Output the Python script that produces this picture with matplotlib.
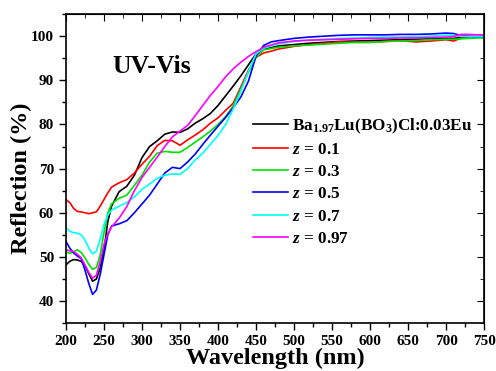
import matplotlib
matplotlib.use("Agg")
import matplotlib.pyplot as plt
from matplotlib.ticker import MultipleLocator

plt.rcParams['font.family'] = 'Liberation Serif'
plt.rcParams['font.weight'] = 'bold'
plt.rcParams['mathtext.fontset'] = 'custom'
plt.rcParams['mathtext.rm'] = 'Liberation Serif:bold'
plt.rcParams['mathtext.it'] = 'Liberation Serif:italic:bold'
plt.rcParams['mathtext.bf'] = 'Liberation Serif:bold'

# wavelength grid (nm)
wl = [200, 205, 210, 215, 220, 225, 230, 235, 240, 245, 250, 255, 260, 270, 280, 290,
      300, 310, 320, 330, 340, 350, 360, 370, 380, 390, 400, 410, 420, 430, 440, 450,
      460, 470, 480, 500, 520, 540, 560, 580, 600, 620, 640, 660, 680, 700, 710, 720,
      730, 740, 750]

# reflection (%) per sample
r_base = [48.2, 49.0, 49.4, 49.3, 49.0, 48.0, 46.2, 44.5, 45.0, 47.5, 51.5, 58.0, 61.5, 64.8, 66.0, 68.5,
          72.5, 75.0, 76.3, 77.8, 78.3, 78.2, 79.0, 80.3, 81.3, 82.5, 84.3, 86.5, 88.7, 91.0, 93.5, 96.0,
          97.0, 97.4, 97.8, 98.1, 98.4, 98.6, 98.8, 98.9, 99.0, 99.1, 99.2, 99.3, 99.4, 99.5, 99.5, 99.7,
          99.7, 99.8, 99.8]
r_01 = [63.0, 62.3, 61.0, 60.3, 60.2, 60.0, 59.8, 60.0, 60.2, 61.5, 63.0, 64.5, 65.8, 66.8, 67.5, 69.0,
        71.0, 72.8, 75.2, 76.4, 76.3, 75.3, 76.5, 77.6, 78.8, 80.3, 81.5, 83.2, 84.8, 88.5, 92.3, 95.2,
        96.2, 96.6, 97.1, 97.7, 98.1, 98.4, 98.7, 98.6, 98.6, 98.8, 99.0, 98.7, 98.9, 99.2, 98.9, 99.6,
        99.8, 99.9, 99.9]
r_03 = [51.2, 50.8, 51.2, 51.6, 51.0, 49.8, 48.3, 47.2, 47.6, 50.5, 55.5, 60.0, 62.0, 63.3, 64.0, 66.2,
        68.5, 71.5, 73.5, 73.9, 73.7, 73.7, 74.8, 76.0, 77.2, 78.5, 80.0, 81.8, 84.2, 88.0, 91.8, 95.2,
        96.9, 97.2, 97.5, 97.8, 98.0, 98.2, 98.4, 98.6, 98.6, 98.8, 98.9, 99.0, 99.2, 99.3, 99.3, 99.4,
        99.5, 99.6, 99.6]
r_05 = [53.5, 52.0, 50.9, 50.2, 49.6, 47.0, 44.0, 41.5, 42.5, 46.0, 50.5, 55.0, 57.0, 57.5, 58.2, 60.0,
        62.0, 64.0, 66.5, 69.0, 70.3, 70.0, 71.5, 73.3, 75.5, 77.6, 79.6, 81.6, 83.8, 86.2, 89.8, 95.5,
        97.9, 98.7, 99.0, 99.5, 99.8, 100.0, 100.2, 100.3, 100.3, 100.3, 100.4, 100.4, 100.5, 100.7, 100.6, 100.1,
        100.0, 99.9, 99.9]
r_07 = [56.6, 55.8, 55.5, 55.4, 55.0, 53.8, 52.0, 50.7, 51.3, 54.0, 57.3, 59.5, 60.6, 61.5, 62.3, 63.6,
        65.3, 66.5, 67.8, 68.5, 68.8, 68.7, 70.0, 72.0, 73.5, 75.5, 77.5, 80.0, 83.5, 87.5, 92.0, 96.0,
        97.3, 97.8, 98.3, 98.8, 99.1, 99.3, 99.5, 99.6, 99.7, 99.8, 99.8, 99.9, 100.0, 100.2, 100.2, 100.0,
        99.9, 99.9, 99.9]
r_097 = [51.6, 51.4, 51.2, 50.6, 49.8, 48.2, 46.5, 45.2, 45.8, 49.0, 52.8, 55.3, 56.8, 58.8, 61.4, 65.0,
         68.0, 70.3, 72.6, 75.0, 77.2, 78.5, 79.8, 82.0, 84.3, 86.6, 88.6, 90.8, 92.6, 94.1, 95.4, 96.5,
         97.5, 98.0, 98.5, 98.9, 99.1, 99.2, 99.3, 99.4, 99.5, 99.5, 99.6, 99.6, 99.7, 99.8, 99.9, 100.4,
         100.4, 100.3, 100.3]

series = [r_base, r_01, r_03, r_05, r_07, r_097]
labels = ['Ba$_{1.97}$Lu(BO$_3$)Cl:0.03Eu', '$z$ = 0.1', '$z$ = 0.3',
          '$z$ = 0.5', '$z$ = 0.7', '$z$ = 0.97']
colors = ['black', '#ff0000', '#00e000', '#0000ff', '#00ffff', '#ff00ff']

fig = plt.figure(figsize=(4.96, 3.71), dpi=100)
ax = fig.add_axes([0.133, 0.129, 0.843, 0.833])

for y, lab, c in zip(series, labels, colors):
    ax.plot(wl, y, color=c, lw=1.2, label=lab)

ax.set_xlim(200, 750)
ax.set_ylim(35, 105)
ax.xaxis.set_major_locator(MultipleLocator(50))
ax.xaxis.set_minor_locator(MultipleLocator(25))
ax.yaxis.set_major_locator(MultipleLocator(10))
ax.yaxis.set_minor_locator(MultipleLocator(5))
ax.tick_params(which='both', direction='out', labelsize=11, width=1)
ax.tick_params(which='major', length=5)
ax.tick_params(which='minor', length=3)

# mirrored ticks pointing inward on top and right
sx = ax.secondary_xaxis('top')
sx.xaxis.set_major_locator(MultipleLocator(50))
sx.xaxis.set_minor_locator(MultipleLocator(25))
sx.tick_params(which='major', direction='in', length=5, labeltop=False)
sx.tick_params(which='minor', direction='in', length=3)
sy = ax.secondary_yaxis('right')
sy.yaxis.set_major_locator(MultipleLocator(10))
sy.yaxis.set_minor_locator(MultipleLocator(5))
sy.tick_params(which='major', direction='in', length=5, labelright=False)
sy.tick_params(which='minor', direction='in', length=3)
for s in ax.spines.values():
    s.set_linewidth(1.2)

ax.set_xlabel('Wavelength (nm)', fontsize=17.5, fontweight='bold', labelpad=0)
ax.set_ylabel('Reflection (%)', fontsize=17.5, fontweight='bold')
ax.yaxis.set_label_coords(-0.08, 0.47)

ax.text(0.11, 0.81, 'UV-Vis', transform=ax.transAxes, fontsize=18.5, fontweight='bold')

ax.legend(loc='upper left', bbox_to_anchor=(0.43, 0.69), frameon=False, fontsize=12.3,
          handlelength=2.1, handletextpad=0.2, labelspacing=0.36, borderaxespad=0)

fig.savefig('out.png', dpi=100)
